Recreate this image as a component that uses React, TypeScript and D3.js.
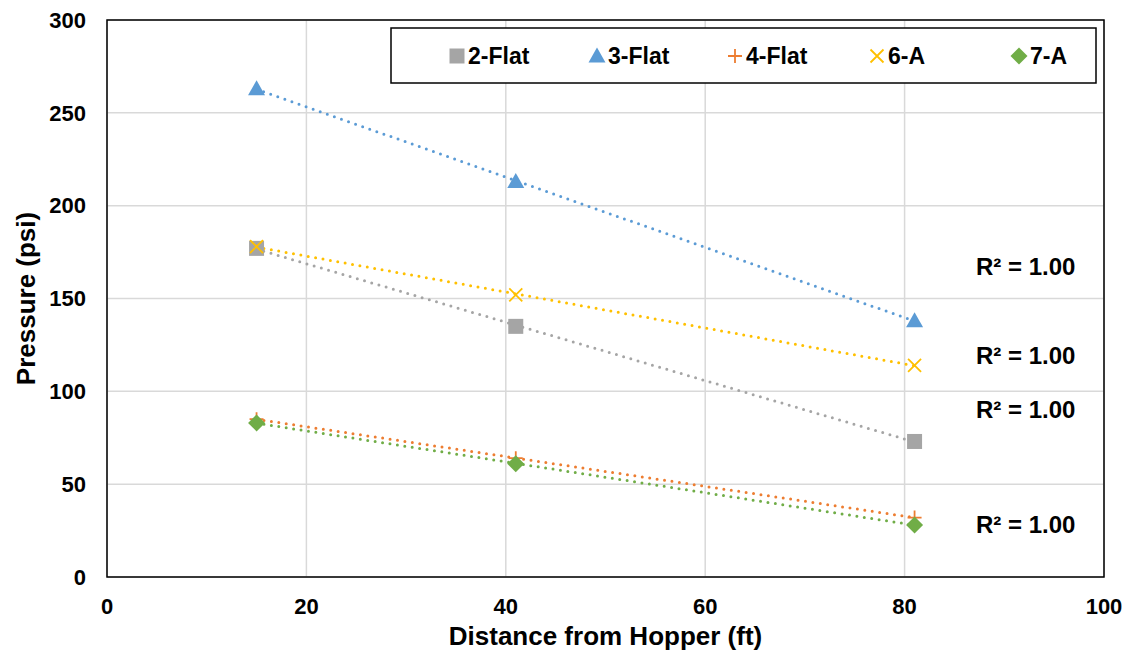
import React from 'react';
import * as d3 from 'd3';

// Distance from hopper (ft)
const distances = [15, 41, 81];

// Pressure readings (psi)
const flat2 = [177, 135, 73];
const flat3 = [263, 213, 138];
const flat4 = [85, 64, 32];
const sixA = [178, 152, 114];
const sevenA = [83, 61, 28];

const seriesNames = ['2-Flat', '3-Flat', '4-Flat', '6-A', '7-A'];
const seriesValues = [flat2, flat3, flat4, sixA, sevenA];
const seriesColors = ['#A5A5A5', '#5B9BD5', '#ED7D31', '#FFC000', '#70AD47'];
const seriesMarkers = ['square', 'triangle', 'plus', 'cross', 'diamond'];

const xTicks = [0, 20, 40, 60, 80, 100];
const yTicks = [0, 50, 100, 150, 200, 250, 300];

// R² labels (y position in psi), in drawing order
const r2Labels = [167, 119, 90, 28];

const W = 1129;
const H = 652;
const margin = { top: 20, right: 25, bottom: 75, left: 107 };
const FONT = 'Liberation Sans, Arial, sans-serif';

// least squares fit
function fit(xs: number[], ys: number[]) {
  const mx = d3.mean(xs)!;
  const my = d3.mean(ys)!;
  const sxy = d3.sum(xs, (x, i) => (x - mx) * (ys[i] - my));
  const sxx = d3.sum(xs, x => (x - mx) * (x - mx));
  const slope = sxy / sxx;
  return { slope, intercept: my - slope * mx };
}

const Marker = ({ type, x, y, color }: { type: string; x: number; y: number; color: string }) => {
  if (type === 'square') return <rect x={x - 7.5} y={y - 7.5} width={15} height={15} fill={color} />;
  if (type === 'triangle') return <path d={`M${x},${y - 8.5}L${x + 8.5},${y + 6.5}L${x - 8.5},${y + 6.5}Z`} fill={color} />;
  if (type === 'plus')
    return <path d={`M${x - 7},${y}H${x + 7}M${x},${y - 7}V${y + 7}`} stroke={color} strokeWidth={1.8} />;
  if (type === 'cross')
    return <path d={`M${x - 6.5},${y - 6.5}L${x + 6.5},${y + 6.5}M${x + 6.5},${y - 6.5}L${x - 6.5},${y + 6.5}`} stroke={color} strokeWidth={1.8} />;
  return <path d={`M${x},${y - 8.5}L${x + 8.5},${y}L${x},${y + 8.5}L${x - 8.5},${y}Z`} fill={color} />;
};

const App = () => {
  const innerW = W - margin.left - margin.right;
  const innerH = H - margin.top - margin.bottom;

  const x = d3.scaleLinear().domain([0, 100]).range([margin.left, margin.left + innerW]);
  const y = d3.scaleLinear().domain([0, 300]).range([margin.top + innerH, margin.top]);

  const line = d3.line<[number, number]>().x(d => x(d[0])).y(d => y(d[1]));
  const xExtent = d3.extent(distances) as [number, number];

  const legendX = [457, 597, 735, 877, 1019];

  return (
    <svg width={W} height={H} style={{ position: 'absolute', left: 0, top: 0, background: '#fff' }} fontFamily={FONT}>
      {/* grid */}
      {yTicks.map(t => (
        <line key={'gy' + t} x1={x(0)} x2={x(100)} y1={y(t)} y2={y(t)} stroke="#D9D9D9" strokeWidth={1.5} />
      ))}
      {xTicks.map(t => (
        <line key={'gx' + t} x1={x(t)} x2={x(t)} y1={y(0)} y2={y(300)} stroke="#D9D9D9" strokeWidth={1.5} />
      ))}
      <rect x={x(0)} y={y(300)} width={innerW} height={innerH} fill="none" stroke="#000" strokeWidth={1.5} />

      {/* tick labels */}
      {yTicks.map(t => (
        <text key={'ty' + t} x={x(0) - 21} y={y(t)} dy="0.35em" textAnchor="end" fontSize={22} fontWeight="bold">
          {t}
        </text>
      ))}
      {xTicks.map(t => (
        <text key={'tx' + t} x={x(t)} y={y(0) + 29} dy="0.35em" textAnchor="middle" fontSize={22} fontWeight="bold">
          {t}
        </text>
      ))}

      {/* axis titles */}
      <text x={(x(0) + x(100)) / 2} y={636} dy="0.35em" textAnchor="middle" fontSize={26} fontWeight="bold">
        Distance from Hopper (ft)
      </text>
      <text transform={`translate(26,${(y(0) + y(300)) / 2}) rotate(-90)`} dy="0.35em" textAnchor="middle" fontSize={26} fontWeight="bold">
        Pressure (psi)
      </text>

      {/* trendlines */}
      {seriesValues.map((vals, i) => {
        const f = fit(distances, vals);
        const pts: [number, number][] = xExtent.map(d => [d, f.intercept + f.slope * d]);
        return (
          <path key={'tl' + i} d={line(pts)!} fill="none" stroke={seriesColors[i]} strokeWidth={3}
            strokeDasharray="0 7.5" strokeLinecap="round" />
        );
      })}

      {/* markers */}
      {seriesValues.map((vals, i) => (
        <g key={'m' + i}>
          {vals.map((v, j) => (
            <Marker key={j} type={seriesMarkers[i]} x={x(distances[j])} y={y(v)} color={seriesColors[i]} />
          ))}
        </g>
      ))}

      {/* R² labels */}
      {r2Labels.map((v, i) => (
        <text key={'r' + i} x={976} y={y(v)} dy="0.35em" fontSize={24} fontWeight="bold">
          R² = 1.00
        </text>
      ))}

      {/* legend */}
      <rect x={391} y={28} width={705} height={55} fill="#fff" stroke="#000" strokeWidth={1.5} />
      {seriesNames.map((name, i) => (
        <g key={'lg' + i}>
          <Marker type={seriesMarkers[i]} x={legendX[i]} y={56} color={seriesColors[i]} />
          <text x={legendX[i] + 11} y={56} dy="0.35em" fontSize={23} fontWeight="bold">
            {name}
          </text>
        </g>
      ))}
    </svg>
  );
};

export default App;
